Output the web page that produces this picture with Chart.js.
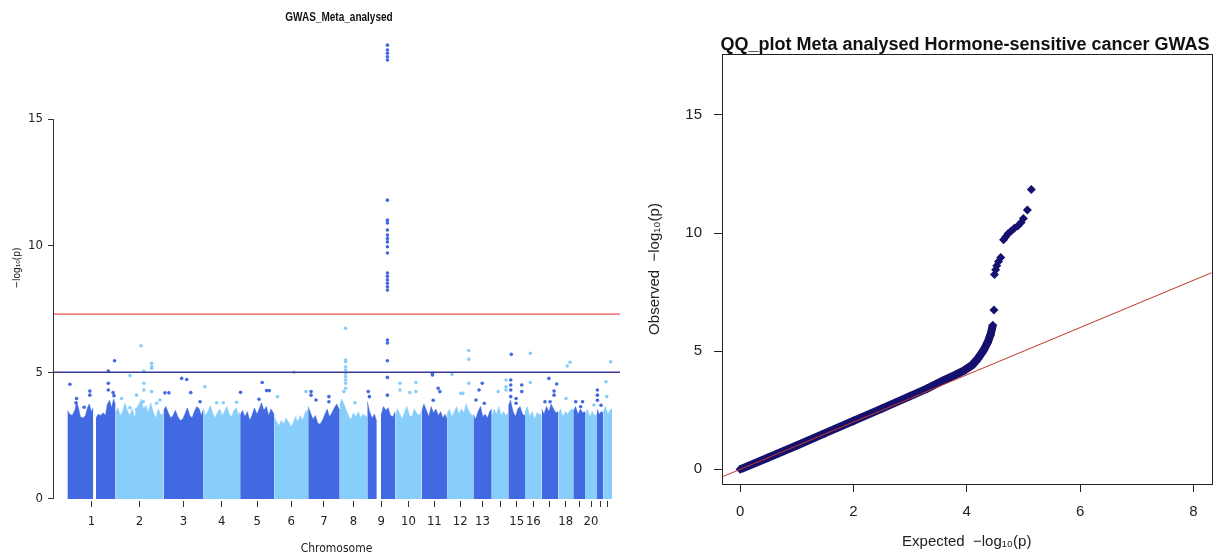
<!DOCTYPE html>
<html>
<head>
<meta charset="utf-8">
<title>GWAS Meta analysed</title>
<script src="https://cdn.jsdelivr.net/npm/chart.js@4.4.1/dist/chart.umd.min.js"></script>
<style>
  body { margin: 0; background: #fff; }
  #wrap { position: relative; width: 1220px; height: 559px; }
  #manhattan { position: absolute; left: 0; top: 0; }
  #qq { position: absolute; left: 620px; top: 0; }
</style>
</head>
<body>
<div id="wrap">
  <canvas id="manhattan" width="620" height="559"></canvas>
  <canvas id="qq" width="600" height="559"></canvas>
</div>
<script>
// ---- Manhattan plot data ----
const chrLabels = ['1', '2', '3', '4', '5', '6', '7', '8', '9', '10', '11', '12', '13', '', '15', '16', '', '18', '', '20', '', ''];
// span of each chromosome on the axis (Mb)
const chrLen = [253, 253, 208, 195, 179, 179, 166, 145, 147, 139, 134, 138, 97, 87, 88, 88, 87, 79, 62, 63, 33, 46];
const yTicksLeft = [0, 5, 10, 15];
const suggestiveLine = 5;
const genomeWideLine = 7.3;

// top of the dense band of SNPs per chromosome: [position Mb, -log10(p)], null = gap
const envelope = [
  [[0, 3.5], [12, 3.35], [25, 3.3], [39, 3.5], [48, 3.85], [58, 3.6], [68, 3.25], [82, 3.2], [95, 3.3], [105, 3.6], [115, 3.75], [126, 3.45], [136, 3.6], [137, null], [150, 3.2], [162, 3.35], [175, 3.3], [188, 3.4], [200, 3.3], [210, 3.75], [222, 3.9], [232, 3.6], [243, 3.95], [253, 3.7]],
  [[0, 3.4], [12, 3.6], [25, 3.3], [38, 3.45], [50, 3.8], [62, 3.5], [75, 3.3], [88, 3.55], [100, 3.2], [112, 3.6], [124, 3.75], [135, 3.95], [148, 3.55], [160, 3.7], [172, 3.4], [185, 3.8], [198, 3.45], [212, 3.2], [225, 3.55], [240, 3.3], [253, 3.4]],
  [[0, 3.5], [12, 3.65], [25, 3.4], [38, 3.2], [50, 3.3], [62, 3.5], [75, 3.25], [88, 3.1], [100, 3.15], [112, 3.35], [125, 3.6], [138, 3.3], [150, 3.2], [162, 3.45], [175, 3.65], [188, 3.55], [198, 3.3], [208, 3.5]],
  [[0, 3.6], [12, 3.3], [25, 3.45], [38, 3.7], [50, 3.4], [62, 3.2], [75, 3.4], [88, 3.55], [100, 3.3], [112, 3.45], [125, 3.65], [138, 3.35], [150, 3.25], [162, 3.5], [175, 3.6], [186, 3.3], [195, 3.45]],
  [[0, 3.3], [12, 3.5], [25, 3.25], [38, 3.45], [50, 3.1], [62, 3.3], [75, 3.6], [88, 3.35], [100, 3.55], [112, 3.8], [125, 3.5], [138, 3.65], [150, 3.3], [162, 3.55], [179, 3.35]],
  [[0, 3.25], [12, 3.05], [25, 2.9], [38, 3.1], [50, 2.95], [62, 3.2], [75, 3.05], [88, 2.85], [100, 3.0], [112, 3.25], [125, 3.05], [138, 3.3], [150, 3.1], [162, 3.4], [179, 3.55]],
  [[0, 3.65], [12, 3.4], [25, 3.15], [38, 3.3], [50, 3.0], [62, 2.95], [75, 3.1], [88, 3.35], [100, 3.55], [112, 3.25], [125, 3.4], [138, 3.6], [150, 3.75], [166, 3.5]],
  [[0, 3.7], [10, 3.95], [22, 3.75], [35, 3.5], [48, 3.25], [60, 3.15], [72, 3.4], [85, 3.25], [98, 3.45], [110, 3.2], [122, 3.35], [135, 3.3], [145, 3.2]],
  [[0, 3.85], [12, 3.45], [25, 3.2], [38, 3.35], [50, 3.05], [51, null], [72, 3.3], [85, 3.65], [98, 3.5], [110, 3.6], [122, 3.3], [135, 3.25], [147, 3.45]],
  [[0, 3.3], [12, 3.55], [25, 3.35], [38, 3.15], [50, 3.45], [62, 3.65], [75, 3.3], [88, 3.25], [100, 3.55], [112, 3.4], [125, 3.3], [139, 3.45]],
  [[0, 3.45], [12, 3.75], [25, 3.5], [38, 3.25], [50, 3.65], [62, 3.4], [75, 3.55], [88, 3.3], [100, 3.45], [112, 3.2], [124, 3.35], [134, 3.15]],
  [[0, 3.35], [12, 3.55], [25, 3.25], [38, 3.45], [50, 3.65], [62, 3.35], [75, 3.55], [88, 3.4], [100, 3.75], [112, 3.5], [125, 3.35], [138, 3.25]],
  [[0, 3.35], [12, 3.15], [25, 3.45], [38, 3.65], [50, 3.25], [62, 3.35], [75, 3.2], [86, 3.45], [97, 3.55]],
  [[0, 3.25], [12, 3.55], [25, 3.35], [38, 3.65], [50, 3.3], [62, 3.45], [75, 3.3], [87, 3.4]],
  [[0, 3.65], [12, 3.9], [25, 3.45], [38, 3.25], [50, 3.55], [62, 3.65], [75, 3.35], [88, 3.3]],
  [[0, 3.45], [12, 3.65], [25, 3.25], [38, 3.45], [50, 3.15], [62, 3.4], [75, 3.35], [88, 3.3]],
  [[0, 3.55], [12, 3.35], [25, 3.65], [38, 3.45], [50, 3.75], [62, 3.55], [75, 3.4], [87, 3.45]],
  [[0, 3.35], [12, 3.55], [25, 3.25], [38, 3.45], [50, 3.35], [62, 3.5], [79, 3.55]],
  [[0, 3.45], [12, 3.65], [25, 3.35], [38, 3.55], [50, 3.4], [62, 3.45]],
  [[0, 3.35], [12, 3.55], [25, 3.25], [38, 3.45], [50, 3.3], [63, 3.35]],
  [[0, 3.55], [12, 3.35], [22, 3.45], [33, 3.4]],
  [[0, 3.45], [12, 3.65], [24, 3.35], [35, 3.5], [46, 3.55]]
];

// isolated SNPs above the dense band
const hitChr = [
  1, 1, 1, 1, 1, 1, 1, 1, 1, 1, 1, 1,
  2, 2, 2, 2, 2, 2, 2, 2, 2, 2, 2, 2, 2, 2, 2, 2,
  3, 3, 3, 3, 3, 3,
  4, 4, 4, 4,
  5, 5, 5, 5, 5,
  6, 6, 6,
  7, 7, 7, 7, 7,
  8, 8, 8, 8, 8, 8, 8, 8, 8, 8, 8, 8,
  9, 9, 9, 9, 9, 9, 9, 9, 9, 9, 9, 9, 9, 9, 9, 9, 9, 9, 9, 9, 9, 9, 9, 9, 9, 9, 9,
  10, 10, 10, 10, 10,
  11, 11, 11, 11, 11,
  12, 12, 12, 12, 12, 12,
  13, 13, 13, 13,
  14, 14, 14, 14,
  15, 15, 15, 15, 15, 15, 15, 15, 15,
  16, 16,
  17, 17, 17, 17, 17, 17,
  18, 18, 18,
  19, 19, 19,
  20,
  21, 21, 21, 21,
  22, 22, 22
];
const hitPos = [
  13, 215, 248, 215, 215, 118, 118, 48, 45, 88, 240, 245,
  134, 190, 190, 190, 149, 76, 149, 149, 190, 111, 32, 234, 76, 111, 146, 216,
  95, 122, 143, 7, 28, 192,
  9, 71, 106, 176,
  2, 116, 139, 153, 99,
  104, 18, 167,
  15, 15, 41, 109, 109,
  31, 31, 31, 31, 31, 31, 31, 31, 31, 31, 22, 80,
  106, 106, 106, 106, 106, 106, 106, 106, 106, 106, 106, 106, 106, 106, 106, 106, 106, 106, 106, 106, 106, 106, 106, 106, 106, 5, 11,
  25, 25, 109, 109, 77,
  57, 57, 87, 96, 61,
  26, 114, 114, 114, 72, 83,
  47, 30, 14, 58,
  34, 75, 75, 75,
  16, 13, 13, 13, 13, 41, 41, 71, 71,
  28, 28,
  38, 79, 65, 65, 17, 44,
  47, 62, 41,
  13, 49, 39,
  47,
  2, 2, 2, 21,
  39, 14, 18
];
const hitLogP = [
  4.53, 5.05, 5.46, 4.57, 4.3, 4.26, 4.1, 3.97, 3.8, 3.62, 4.2, 4.08,
  6.05, 5.36, 5.23, 5.16, 5.05, 4.87, 4.57, 4.3, 4.24, 4.1, 3.97, 3.91, 3.6, 3.52, 3.84, 3.78,
  4.76, 4.72, 4.2, 4.19, 4.19, 3.84,
  4.43, 3.8, 3.8, 3.82,
  4.21, 4.6, 4.28, 4.28, 3.94,
  5.0, 4.04, 4.24,
  4.24, 4.1, 3.91, 4.04, 3.84,
  6.74, 5.49, 5.42, 5.22, 5.09, 4.96, 4.83, 4.7, 4.57, 4.37, 4.24, 3.8,
  17.92, 17.73, 17.6, 17.46, 17.33, 11.8, 11.01, 10.9, 10.62, 10.42, 10.28, 10.15, 9.96, 9.71, 8.92, 8.79, 8.65, 8.52, 8.38, 8.25, 6.28, 6.16, 5.46, 4.8, 4.1, 4.24, 4.04,
  4.57, 4.3, 4.6, 4.24, 4.2,
  4.96, 4.9, 4.37, 4.24, 3.9,
  4.92, 5.86, 5.52, 4.57, 4.17, 4.17,
  4.57, 4.3, 3.91, 3.78,
  4.24, 4.7, 4.43, 4.3,
  5.71, 4.7, 4.5, 4.3, 4.04, 3.97, 3.78, 4.5, 4.24,
  5.75, 4.6,
  4.76, 4.54, 4.26, 4.1, 3.84, 3.84,
  5.25, 5.4, 3.97,
  3.84, 3.84, 3.64,
  3.71,
  4.3, 4.1, 3.9, 3.7,
  5.42, 4.63, 4.04
];

// ---- QQ plot data ----
// dense part of the curve (overlapping diamonds)
const qqBandExpected = [0, 0.5, 1.0, 1.5, 2.0, 2.5, 3.0, 3.3, 3.6, 3.8, 3.95, 4.1, 4.2, 4.3, 4.37, 4.42, 4.46];
const qqBandObserved = [0, 0.5, 1.01, 1.53, 2.05, 2.57, 3.1, 3.42, 3.78, 4.0, 4.18, 4.42, 4.7, 5.05, 5.38, 5.7, 6.1];
// separated points in the tail
const qqTailExpected = [4.48, 4.49, 4.51, 4.53, 4.56, 4.6, 4.65, 4.69, 4.73, 4.78, 4.84, 4.9, 4.96, 5.0, 5.07, 5.14];
const qqTailObserved = [6.74, 8.25, 8.45, 8.62, 8.8, 8.97, 9.72, 9.85, 9.98, 10.08, 10.2, 10.3, 10.45, 10.62, 10.98, 11.85];
const qqXTicks = [0, 2, 4, 6, 8];
const qqYTicks = [0, 5, 10, 15];

// ---- helpers ----
const DARK = '#4169E1';
const LIGHT = '#87CEFA';
const NAVY = '#15106e';
const narrow = "'Liberation Sans Narrow', 'DejaVu Sans Condensed', sans-serif";
const sans = "'Liberation Sans', Arial, sans-serif";

const chrStart = [];
let acc = 0;
chrLen.forEach(len => { chrStart.push(acc); acc += len; });
const genomeLen = acc;
const chrMid = chrLen.map((len, i) => chrStart[i] + len / 2);
const chrColor = i => (i % 2 === 0 ? DARK : LIGHT);

// title text drawn at a fixed spot, optionally squeezed horizontally
function textTitle(text, x, y, font, squeeze = 1) {
  return {
    id: 'textTitle',
    afterDraw(chart) {
      const ctx = chart.ctx;
      ctx.save();
      ctx.font = font;
      ctx.fillStyle = '#111';
      ctx.textAlign = 'center';
      ctx.textBaseline = 'middle';
      ctx.translate(x, y);
      ctx.scale(squeeze, 1);
      ctx.fillText(text, 0, 0);
      ctx.restore();
    }
  };
}

// R draws the y axis line only between the first and last tick
const yAxisLine = {
  id: 'yAxisLine',
  afterDraw(chart) {
    const y = chart.scales.y;
    const x = Math.round(chart.chartArea.left) + 0.5;
    const ctx = chart.ctx;
    ctx.save();
    ctx.strokeStyle = '#333';
    ctx.lineWidth = 1;
    ctx.beginPath();
    ctx.moveTo(x, y.getPixelForValue(yTicksLeft[0]));
    ctx.lineTo(x, y.getPixelForValue(yTicksLeft[yTicksLeft.length - 1]));
    ctx.stroke();
    ctx.restore();
  }
};

const boxFrame = {
  id: 'boxFrame',
  afterDraw(chart) {
    const { left, top, right, bottom } = chart.chartArea;
    const ctx = chart.ctx;
    ctx.save();
    ctx.strokeStyle = '#222';
    ctx.lineWidth = 1;
    ctx.strokeRect(Math.round(left) + 0.5, Math.round(top) + 0.5, Math.round(right - left), Math.round(bottom - top));
    ctx.restore();
  }
};

// ---- Manhattan plot ----
const xMin = -76;
const xMax = genomeLen + 42;

const massSets = envelope.map((pts, i) => ({
  type: 'line',
  data: pts.map(([p, v]) => ({ x: chrStart[i] + p, y: v })),
  fill: 'origin',
  backgroundColor: chrColor(i),
  borderColor: chrColor(i),
  borderWidth: 0.5,
  pointRadius: 0,
  spanGaps: false,
  tension: 0
}));

new Chart(document.getElementById('manhattan'), {
  type: 'scatter',
  data: {
    datasets: [
      {
        type: 'line',
        data: [{ x: xMin, y: genomeWideLine }, { x: xMax, y: genomeWideLine }],
        borderColor: '#e32626',
        borderWidth: 1,
        pointRadius: 0
      },
      {
        type: 'line',
        data: [{ x: xMin, y: suggestiveLine }, { x: xMax, y: suggestiveLine }],
        borderColor: '#3b3b95',
        borderWidth: 1.5,
        pointRadius: 0
      },
      {
        data: hitChr.map((c, k) => ({ x: chrStart[c - 1] + hitPos[k], y: hitLogP[k] })),
        pointRadius: 1.8,
        pointBorderWidth: 0,
        pointBackgroundColor: hitChr.map(c => chrColor(c - 1))
      },
      ...massSets
    ]
  },
  options: {
    responsive: false,
    animation: false,
    devicePixelRatio: 1,
    layout: { autoPadding: false, padding: { top: 35, right: 0, left: 0, bottom: 0 } },
    plugins: { legend: { display: false }, tooltip: { enabled: false } },
    scales: {
      x: {
        type: 'linear',
        min: xMin,
        max: xMax,
        border: { display: false },
        grid: { drawOnChartArea: false, tickLength: 6, tickColor: '#333' },
        ticks: {
          autoSkip: false,
          maxRotation: 0,
          padding: 7,
          color: '#222',
          font: { family: narrow, size: 13 },
          callback: (v, i) => chrLabels[i]
        },
        afterBuildTicks: s => { s.ticks = chrMid.map(v => ({ value: v })); },
        afterFit: s => { s.height = 58; s.paddingLeft = 0; s.paddingRight = 0; },
        title: {
          display: true,
          text: 'Chromosome',
          color: '#222',
          font: { family: narrow, size: 12 },
          padding: { top: 0, bottom: 3 }
        }
      },
      y: {
        min: -0.08,
        max: 18.32,
        border: { display: false },
        grid: { drawOnChartArea: false, tickLength: 5, tickColor: '#333' },
        ticks: { padding: 5, color: '#222', font: { family: narrow, size: 13 } },
        afterBuildTicks: s => { s.ticks = yTicksLeft.map(v => ({ value: v })); },
        afterFit: s => { s.width = 53; },
        title: {
          display: true,
          text: '\u2212log\u2081\u2080(p)',
          color: '#222',
          font: { family: narrow, size: 10 },
          padding: { top: 11, bottom: 0 }
        }
      }
    }
  },
  plugins: [yAxisLine, textTitle('GWAS_Meta_analysed', 339, 17, 'bold 13px ' + sans, 0.77)]
});

// ---- QQ plot ----
new Chart(document.getElementById('qq'), {
  type: 'scatter',
  data: {
    datasets: [
      {
        type: 'line',
        data: [{ x: -1, y: -1 }, { x: 9, y: 9 }],
        borderColor: '#c0392b',
        borderWidth: 1,
        pointRadius: 0
      },
      {
        data: qqTailExpected.map((e, i) => ({ x: e, y: qqTailObserved[i] })),
        pointStyle: 'rectRot',
        pointRadius: 4.5,
        pointBorderWidth: 0,
        pointBackgroundColor: NAVY
      },
      {
        type: 'line',
        data: qqBandExpected.map((e, i) => ({ x: e, y: qqBandObserved[i] })),
        borderColor: NAVY,
        borderWidth: 8,
        borderJoinStyle: 'round',
        pointStyle: 'rectRot',
        pointRadius: 4.5,
        pointBorderWidth: 0,
        pointBackgroundColor: NAVY,
        tension: 0
      }
    ]
  },
  options: {
    responsive: false,
    animation: false,
    devicePixelRatio: 1,
    layout: { autoPadding: false, padding: { top: 54, right: 8.5, left: 0, bottom: 0 } },
    plugins: { legend: { display: false }, tooltip: { enabled: false } },
    scales: {
      x: {
        type: 'linear',
        min: -0.32,
        max: 8.32,
        border: { display: false },
        grid: { drawOnChartArea: false, tickLength: 8, tickColor: '#222' },
        ticks: { padding: 11, color: '#222', font: { family: sans, size: 15 } },
        afterBuildTicks: s => { s.ticks = qqXTicks.map(v => ({ value: v })); },
        afterFit: s => { s.height = 75; },
        title: {
          display: true,
          text: 'Expected  \u2212log\u2081\u2080(p)',
          color: '#222',
          font: { family: sans, size: 15 },
          padding: { top: 0, bottom: 8 }
        }
      },
      y: {
        min: -0.62,
        max: 17.58,
        border: { display: false },
        grid: { drawOnChartArea: false, tickLength: 8, tickColor: '#222' },
        ticks: { padding: 12, color: '#222', font: { family: sans, size: 15 } },
        afterBuildTicks: s => { s.ticks = qqYTicks.map(v => ({ value: v })); },
        afterFit: s => { s.width = 102; },
        title: {
          display: true,
          text: 'Observed  \u2212log\u2081\u2080(p)',
          color: '#222',
          font: { family: sans, size: 15 },
          padding: { top: 26, bottom: 0 }
        }
      }
    }
  },
  plugins: [boxFrame, textTitle('QQ_plot Meta analysed Hormone-sensitive cancer GWAS', 345, 45, 'bold 18px ' + sans)]
});
</script>
</body>
</html>
